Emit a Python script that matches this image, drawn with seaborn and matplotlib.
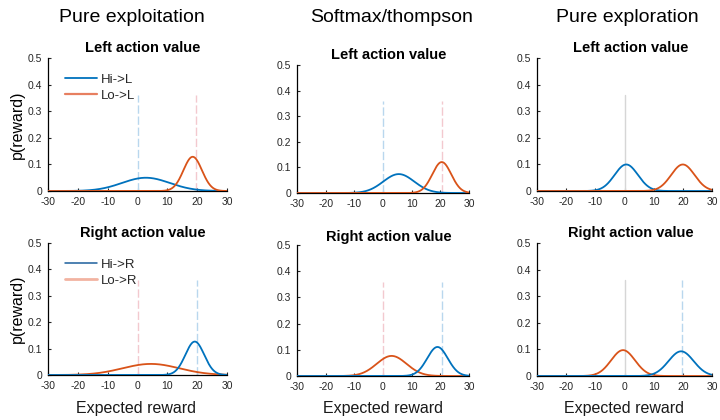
import numpy as np
import pandas as pd
import matplotlib
matplotlib.use("Agg")
import matplotlib.pyplot as plt
from matplotlib.lines import Line2D
import seaborn as sns

sns.set_theme(style="white")
plt.rcParams['font.family'] = ['Liberation Sans', 'DejaVu Sans']

# ---- data ----
strategies = ["Pure exploitation", "Softmax/thompson", "Pure exploration"]
rows = ["Left action value", "Right action value"]
# Gaussian parameters of each belief distribution (mean, sd)
hi_mean = [[2.8, 5.5, 0.6], [19.2, 19.0, 19.4]]
hi_sd = [[8.0, 5.4, 4.0], [3.15, 3.6, 4.3]]
lo_mean = [[18.5, 20.5, 20.0], [4.5, 3.0, -0.5]]
lo_sd = [[3.1, 3.3, 4.0], [9.5, 5.2, 4.1]]
# reference vertical markers
hi_ref = [[0.0, 0.0, None], [20.0, 20.5, 19.7]]
lo_ref = [[19.5, 20.5, None], [0.0, 0.0, None]]
gray_ref = [[None, None, 0.3], [None, None, 0.0]]
ref_height = 0.36
legend_labels = [["Hi->L", "Lo->L"], ["Hi->R", "Lo->R"]]
x_ticks = [-30, -20, -10, 0, 10, 20, 30]
y_ticks = [0, 0.1, 0.2, 0.3, 0.4, 0.5]
y_tick_labels = ["0", "0.1", "0.2", "0.3", "0.4", "0.5"]

BLUE = "#0072BD"
RED = "#D95319"
LBLUE = "#b9d7ee"
LPINK = "#f3c9cf"
GRAY = "#d6d6d6"

x = np.linspace(-30, 30, 601)


def pdf(m, s):
    return np.exp(-0.5 * ((x - m) / s) ** 2) / (s * np.sqrt(2 * np.pi))


W, H = 720, 420
fig = plt.figure(figsize=(7.2, 4.2), dpi=100)

# axes boxes in pixels: (left, right, top, bottom)
boxes = [
    [(48, 227, 58, 191), (297, 469, 65, 193), (537, 712, 58, 191)],
    [(48, 227, 243, 375), (297, 469, 245, 376), (537, 712, 243, 376)],
]
title_pos = [[(143, 48), (389, 55), (631, 48)], [(143, 233), (389, 237), (631, 233)]]
col_title_pos = [(132, 18), (392, 18), (627, 18)]
xlabel_pos = [(136, 409), (383, 409), (624, 409)]

for r in range(2):
    for c in range(3):
        l, rr, t, b = boxes[r][c]
        ax = fig.add_axes([l / W, 1 - b / H, (rr - l) / W, (b - t) / H])
        df = pd.DataFrame({
            "x": np.concatenate([x, x]),
            "p": np.concatenate([pdf(hi_mean[r][c], hi_sd[r][c]),
                                 pdf(lo_mean[r][c], lo_sd[r][c])]),
            "series": [legend_labels[r][0]] * len(x) + [legend_labels[r][1]] * len(x),
        })
        # reference lines
        if hi_ref[r][c] is not None:
            ax.plot([hi_ref[r][c]] * 2, [0, ref_height], color=LBLUE, lw=1.0,
                    ls=(0, (6, 2)), zorder=1)
        if lo_ref[r][c] is not None:
            ax.plot([lo_ref[r][c]] * 2, [0, ref_height], color=LPINK, lw=1.0,
                    ls=(0, (6, 2)), zorder=1)
        if gray_ref[r][c] is not None:
            ax.plot([gray_ref[r][c]] * 2, [0, ref_height], color=GRAY, lw=1.0, zorder=1)
        if r == 0:
            order = [legend_labels[r][0], legend_labels[r][1]]
        else:
            order = [legend_labels[r][1], legend_labels[r][0]]
        pal = {legend_labels[r][0]: BLUE, legend_labels[r][1]: RED}
        sns.lineplot(data=df, x="x", y="p", hue="series", hue_order=order,
                     palette=pal, lw=1.3, ax=ax, legend=False, zorder=3)
        ax.set_xlim(-30, 30)
        ax.set_ylim(0, 0.5)
        ax.set_xticks(x_ticks)
        ax.set_xticklabels([str(v) for v in x_ticks])
        ax.set_yticks(y_ticks)
        ax.set_yticklabels(y_tick_labels)
        ax.set_xlabel("")
        ax.set_ylabel("")
        for s in ["top", "right"]:
            ax.spines[s].set_visible(False)
        for s in ["left", "bottom"]:
            ax.spines[s].set_color("black")
            ax.spines[s].set_linewidth(0.9)
        ax.tick_params(direction="in", length=2.5, width=0.8, labelsize=7.5,
                       colors="#262626", left=True, bottom=True)
        ax.tick_params(axis="x", pad=4)
        ax.tick_params(axis="y", pad=4)
        ax.set_facecolor("none")
        ax.patch.set_alpha(0)
        tx, ty = title_pos[r][c]
        fig.text(tx / W, 1 - ty / H, rows[r], ha="center", va="center",
                 fontsize=10.5, fontweight="bold", color="black")
        if c == 0:
            if r == 0:
                handles = [Line2D([], [], color=BLUE, lw=1.3),
                           Line2D([], [], color="#e77f60", lw=1.6)]
            else:
                handles = [Line2D([], [], color="#1c5f9c", lw=1.1),
                           Line2D([], [], color="#f2b3a1", lw=2.0)]
            ax.legend(handles, legend_labels[r], loc="upper left", frameon=False,
                      fontsize=9.5, handlelength=2.4, handletextpad=0.3,
                      labelspacing=0.25, bbox_to_anchor=(0.03, 0.97))
            ax.set_ylabel("p(reward)", fontsize=11.5, labelpad=2, color="black")
        if r == 0:
            cx, cy = col_title_pos[c]
            fig.text(cx / W, 1 - cy / H, strategies[c], ha="center", va="center",
                     fontsize=14, color="black")
        else:
            lx, ly = xlabel_pos[c]
            fig.text(lx / W, 1 - ly / H, "Expected reward", ha="center", va="center",
                     fontsize=11.5, color="#1a1a1a")

fig.savefig("out.png", dpi=100, facecolor="white")
